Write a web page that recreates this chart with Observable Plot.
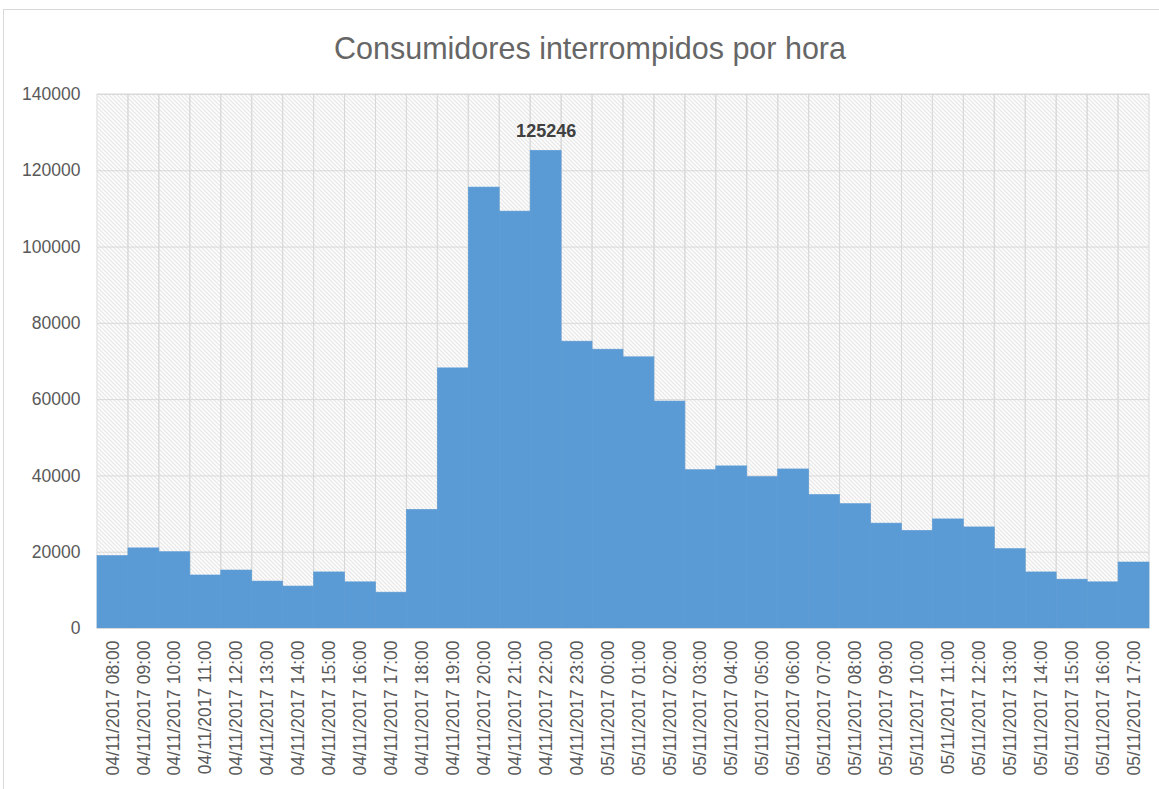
<!DOCTYPE html>
<html>
<head>
<meta charset="utf-8">
<script src="https://cdn.jsdelivr.net/npm/d3@7"></script>
<script src="https://cdn.jsdelivr.net/npm/@observablehq/plot@0.6"></script>
<style>
  html, body { margin: 0; padding: 0; background: #fff; overflow: hidden; }
  body { position: relative; width: 1159px; height: 789px; }
  #frame { position: absolute; left: 3px; top: 9px; width: 1180px; height: 820px; border: 1px solid #d9d9d9; box-sizing: border-box; }
  #title { position: absolute; left: 0; width: 1180px; top: 33px; text-align: center; font-family: "Liberation Sans", Arial, sans-serif; font-size: 30.5px; line-height: 30px; color: #666666; }
  #chart { position: absolute; left: 0; top: 70px; }
</style>
</head>
<body>
<div id="frame"></div>
<div id="title">Consumidores interrompidos por hora</div>
<div id="chart"></div>
<script>
const categories = [
  "04/11/2017 08:00", "04/11/2017 09:00", "04/11/2017 10:00", "04/11/2017 11:00",
  "04/11/2017 12:00", "04/11/2017 13:00", "04/11/2017 14:00", "04/11/2017 15:00",
  "04/11/2017 16:00", "04/11/2017 17:00", "04/11/2017 18:00", "04/11/2017 19:00",
  "04/11/2017 20:00", "04/11/2017 21:00", "04/11/2017 22:00", "04/11/2017 23:00",
  "05/11/2017 00:00", "05/11/2017 01:00", "05/11/2017 02:00", "05/11/2017 03:00",
  "05/11/2017 04:00", "05/11/2017 05:00", "05/11/2017 06:00", "05/11/2017 07:00",
  "05/11/2017 08:00", "05/11/2017 09:00", "05/11/2017 10:00", "05/11/2017 11:00",
  "05/11/2017 12:00", "05/11/2017 13:00", "05/11/2017 14:00", "05/11/2017 15:00",
  "05/11/2017 16:00", "05/11/2017 17:00"
];
const consumers = [
  19000, 21000, 20000, 13900, 15200, 12300, 11000, 14700, 12100, 9400,
  31100, 68200, 115600, 109300, 125246, 75200, 73100, 71100, 59500, 41500,
  42500, 39700, 41700, 35000, 32600, 27500, 25600, 28600, 26500, 20800,
  14700, 12800, 12100, 17300
];
const yTicks = [0, 20000, 40000, 60000, 80000, 100000, 120000, 140000];

const data = categories.map((c, i) => ({ hour: c, value: consumers[i] }));
const maxValue = d3.max(consumers);
const yMax = yTicks[yTicks.length - 1];

const grid = "#d9d9d9";
const blue = "#5b9bd5";

const svg = Plot.plot({
  width: 1159,
  height: 719,
  marginTop: 24,
  marginBottom: 161,
  marginLeft: 97,
  marginRight: 10,
  style: { fontFamily: "'Liberation Sans', Arial, sans-serif", fontSize: "17.5px", color: "#595959", background: "transparent" },
  x: { type: "band", domain: categories, padding: 0, label: null, tickSize: 0, tickPadding: 12, tickRotate: -90 },
  y: { domain: [0, yMax], ticks: yTicks, tickFormat: d => String(d), label: null, tickSize: 0, tickPadding: 17 },
  marks: [
    Plot.frame({ fill: "url(#hatch)", stroke: "none" }),
    Plot.barY(categories, { x: d => d, y1: () => 0, y2: () => yMax, fill: "none", stroke: grid, strokeWidth: 1 }),
    Plot.ruleY(yTicks, { stroke: grid, strokeWidth: 1 }),
    Plot.barY(data, { x: "hour", y: "value", fill: blue, stroke: blue, strokeWidth: 0.6 }),
    Plot.ruleY([0], { stroke: grid, strokeWidth: 1 }),
    Plot.text(data.filter(d => d.value === maxValue), {
      x: "hour", y: "value", text: d => String(d.value),
      lineAnchor: "bottom", dy: -14, fontWeight: "bold", fontSize: 18, fill: "#404040"
    })
  ]
});

const ns = "http://www.w3.org/2000/svg";
const defs = document.createElementNS(ns, "defs");
defs.innerHTML = '<pattern id="hatch" patternUnits="userSpaceOnUse" width="4" height="4">' +
  '<rect width="4" height="4" fill="#ffffff"/>' +
  '<path d="M-1,-1 L5,5 M-1,3 L1,5 M3,-1 L5,1" stroke="#d2d2d2" stroke-width="1"/></pattern>';
svg.insertBefore(defs, svg.firstChild);

document.getElementById("chart").appendChild(svg);
</script>
</body>
</html>
